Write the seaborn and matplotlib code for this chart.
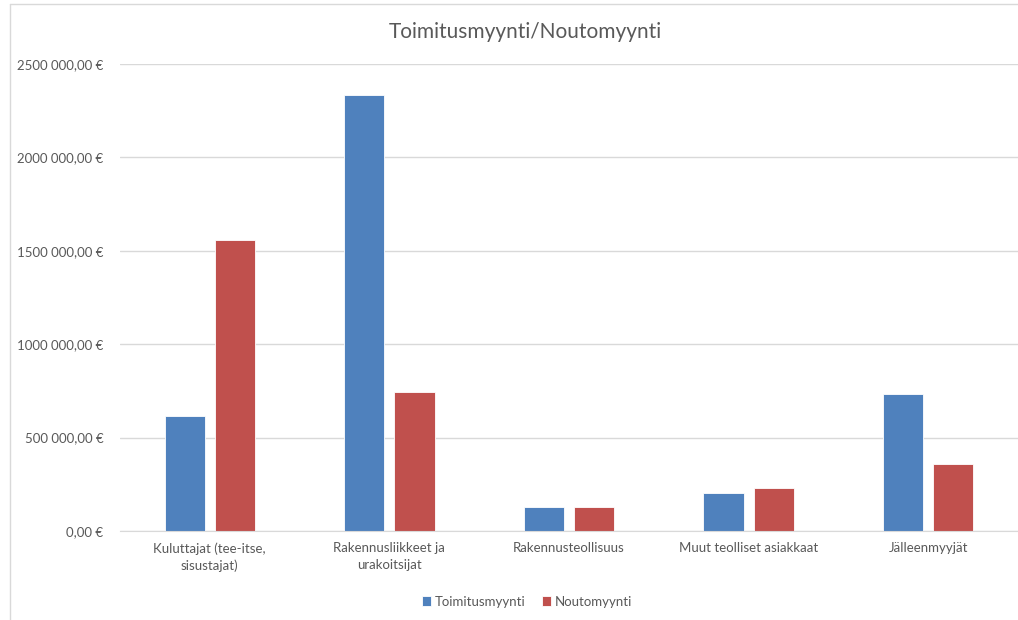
import matplotlib
matplotlib.use('Agg')
import matplotlib.pyplot as plt
import seaborn as sns
import pandas as pd

# Data
kategoriat = ['Kuluttajat (tee-itse,\nsisustajat)', 'Rakennusliikkeet ja\nurakoitsijat',
              'Rakennusteollisuus', 'Muut teolliset asiakkaat', 'Jälleenmyyjät']
toimitusmyynti = [615000, 2332000, 127000, 201000, 733000]
noutomyynti = [1559000, 744000, 127000, 228000, 357000]
sarjat = ['Toimitusmyynti', 'Noutomyynti']
y_ticks = [0, 500000, 1000000, 1500000, 2000000, 2500000]
y_tick_labels = ['0,00 €', '500 000,00 €', '1000 000,00 €', '1500 000,00 €',
                 '2000 000,00 €', '2500 000,00 €']

df = pd.DataFrame({
    'kategoria': kategoriat * 2,
    'myynti': toimitusmyynti + noutomyynti,
    'sarja': [sarjat[0]] * len(kategoriat) + [sarjat[1]] * len(kategoriat),
})

sns.set_style('white')
plt.rcParams['font.family'] = ['Lato', 'DejaVu Sans']
tekstiväri = '#595959'
ruudukko = '#D9D9D9'

fig = plt.figure(figsize=(10.18, 6.2), dpi=100)
ax = fig.add_axes([120 / 1018, 89 / 620, 898 / 1018, 467 / 620])

sns.barplot(data=df, x='kategoria', y='myynti', hue='sarja', ax=ax,
            palette=['#4F81BD', '#C0504D'], saturation=1, width=0.56, gap=0.2,
            edgecolor='white', linewidth=0.6)

ax.set_ylim(0, 2500000)
ax.set_yticks(y_ticks)
ax.set_yticklabels(y_tick_labels)
ax.yaxis.grid(True, color=ruudukko, linewidth=1)
ax.set_axisbelow(True)
ax.tick_params(axis='y', length=0, pad=12, labelsize=9.5, labelcolor=tekstiväri)
ax.tick_params(axis='x', length=0, pad=8, labelsize=9.5, labelcolor=tekstiväri)
for lbl in ax.get_xticklabels():
    lbl.set_linespacing(1.45)
ax.set_xlabel('')
ax.set_ylabel('')
for s in ['left', 'right', 'top']:
    ax.spines[s].set_visible(False)
ax.spines['bottom'].set_color(ruudukko)

ax.legend(loc='center', bbox_to_anchor=(407 / 898, -0.151), ncol=2, frameon=False,
          fontsize=9.5, labelcolor=tekstiväri, handlelength=0.7, handleheight=0.7,
          handletextpad=0.3, columnspacing=1.2)

fig.text(525 / 1018, 1 - 32 / 620, 'Toimitusmyynti/Noutomyynti', ha='center', va='center',
         fontsize=15, color=tekstiväri)

# chart frame
fig.add_artist(plt.Line2D([10 / 1018, 10 / 1018], [0, 1 - 4 / 620], color=ruudukko, linewidth=1))
fig.add_artist(plt.Line2D([10 / 1018, 1], [1 - 4 / 620, 1 - 4 / 620], color=ruudukko, linewidth=1))

fig.savefig('out.png', dpi=100)
